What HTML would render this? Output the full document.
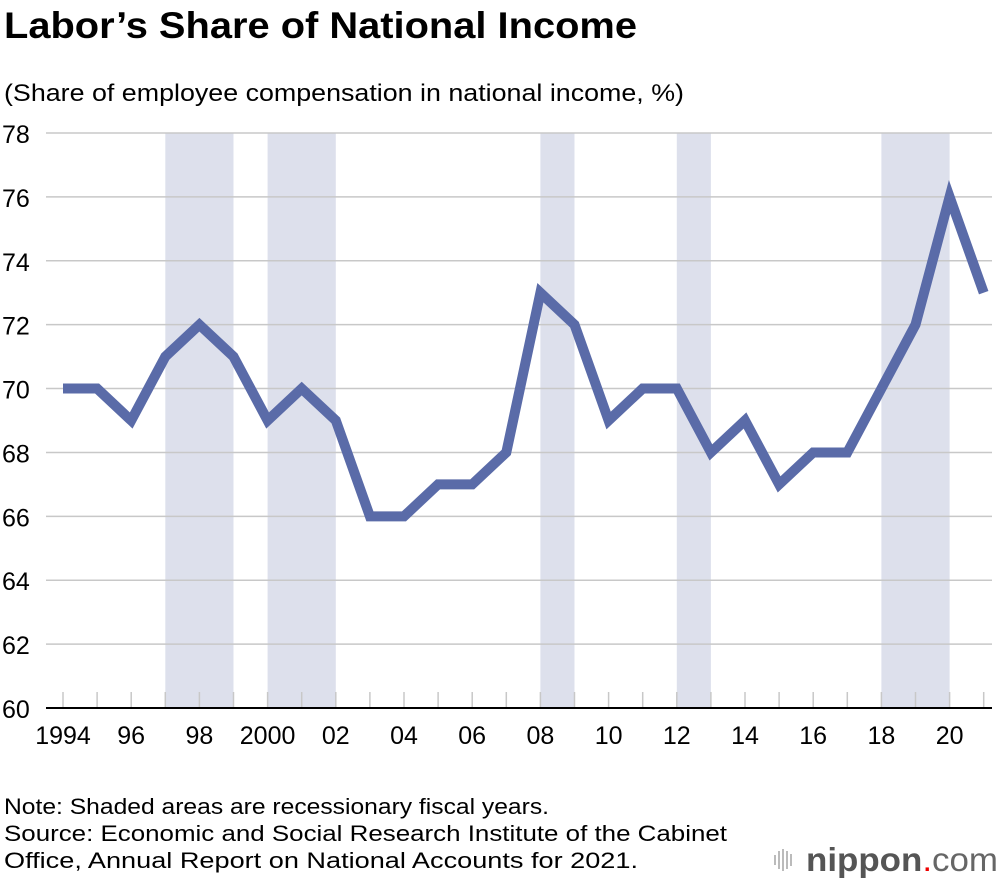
<!DOCTYPE html>
<html><head><meta charset="utf-8"><style>
body{margin:0;background:#fff;font-family:"Liberation Sans",Arial,sans-serif;}
</style></head><body>
<svg width="1000" height="884" xmlns="http://www.w3.org/2000/svg" font-family="Liberation Sans, Arial, sans-serif">
<text x="4" y="38" font-size="37" font-weight="bold" fill="#000" textLength="633" lengthAdjust="spacingAndGlyphs">Labor’s Share of National Income</text>
<text x="4" y="101" font-size="24" fill="#000" textLength="680" lengthAdjust="spacingAndGlyphs">(Share of employee compensation in national income, %)</text>
<g id="shade"></g><g id="grid"></g><g id="ticks"></g>
<line x1="46" y1="708" x2="992" y2="708" stroke="#000" stroke-width="2"/>
<g id="labels"></g>
<path id="line" fill="none" stroke="#5a6ba8" stroke-width="10" stroke-linejoin="miter"/>
<text x="4" y="814" font-size="22" textLength="545" lengthAdjust="spacingAndGlyphs">Note: Shaded areas are recessionary fiscal years.</text>
<text x="4" y="841" font-size="22" textLength="723" lengthAdjust="spacingAndGlyphs">Source: Economic and Social Research Institute of the Cabinet</text>
<text x="4" y="868" font-size="22" textLength="634" lengthAdjust="spacingAndGlyphs">Office, Annual Report on National Accounts for 2021.</text>
<g>
<g stroke="#bbb" stroke-width="2"><line x1="775" y1="855" x2="775" y2="865"/><line x1="779" y1="851" x2="779" y2="869"/><line x1="783" y1="849" x2="783" y2="871"/><line x1="787" y1="851" x2="787" y2="869"/><line x1="791" y1="854" x2="791" y2="866"/></g>
<text x="806" y="871" font-size="33" fill="#555" textLength="192" lengthAdjust="spacingAndGlyphs"><tspan font-weight="bold">nippon</tspan><tspan fill="#e00">.</tspan><tspan fill="#666">com</tspan></text>
</g>
</svg>
<script>
const years=[1994,1995,1996,1997,1998,1999,2000,2001,2002,2003,2004,2005,2006,2007,2008,2009,2010,2011,2012,2013,2014,2015,2016,2017,2018,2019,2020,2021];
const values=[70,70,69,71,72,71,69,70,69,66,66,67,67,68,73,72,69,70,70,68,69,67,68,68,70,72,76,73];
const yTicks=[60,62,64,66,68,70,72,74,76,78];
const xTickLabels=["1994","96","98","2000","02","04","06","08","10","12","14","16","18","20"];
const xTickYears=[1994,1996,1998,2000,2002,2004,2006,2008,2010,2012,2014,2016,2018,2020];
const recessions=[[1997,1999],[2000,2002],[2008,2009],[2012,2013],[2018,2020]];
const NS="http://www.w3.org/2000/svg";
const x=y=>63+(y-1994)*34.1;
const yv=v=>708-(v-60)*(575/18);
function mk(t,a,p){const e=document.createElementNS(NS,t);for(const k in a)e.setAttribute(k,a[k]);p.appendChild(e);return e;}
const sh=document.getElementById('shade');
recessions.forEach(r=>{const e=mk('rect',{x:x(r[0]),y:yv(78),width:x(r[1])-x(r[0]),height:yv(60)-yv(78),fill:'#dde0ec'},sh);

});
const g=document.getElementById('grid'),lb=document.getElementById('labels');
yTicks.forEach(t=>{if(t>60){const l=mk('line',{x1:46,x2:992,y1:yv(t),y2:yv(t),stroke:'#c8c8c8','stroke-width':1.5},g);

}
const tx=mk('text',{x:2,y:yv(t)+10,'font-size':25},lb);tx.textContent=t;

});
const tk=document.getElementById('ticks');
years.forEach(yr=>{const l=mk('line',{x1:x(yr),x2:x(yr),y1:692,y2:708,stroke:'#c8c8c8','stroke-width':1.5},tk);

});
xTickYears.forEach((yr,i)=>{const tx=mk('text',{x:x(yr),y:744,'font-size':25,'text-anchor':'middle'},lb);tx.textContent=xTickLabels[i];

});
document.getElementById('line').setAttribute('d',values.map((v,i)=>(i?'L':'M')+x(years[i])+','+yv(v)).join(''));
</script>
</body></html>
